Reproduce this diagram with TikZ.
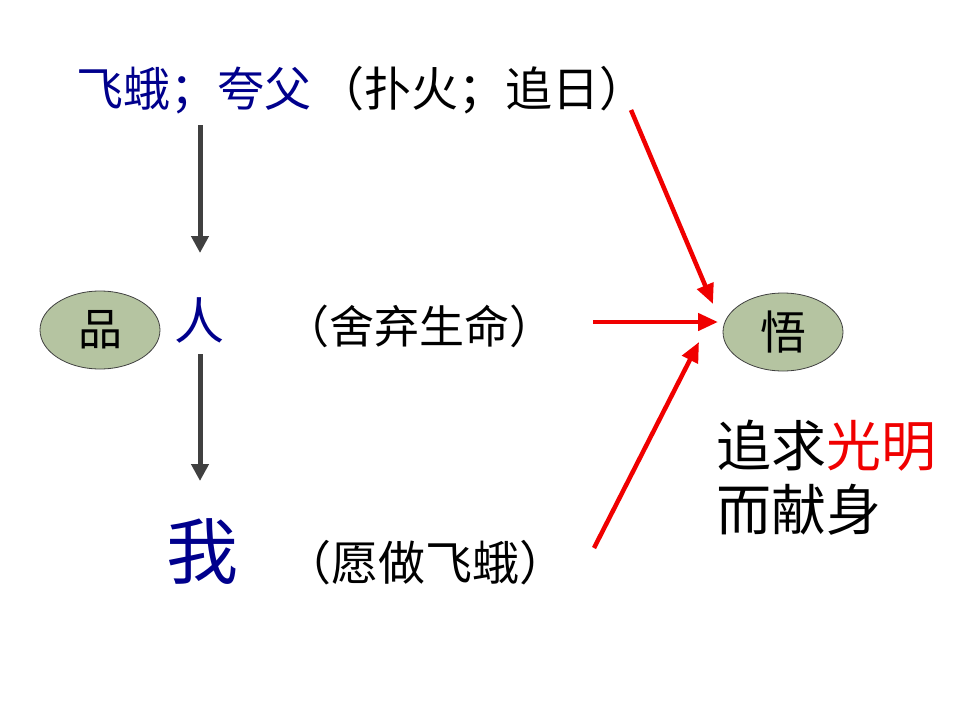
\documentclass[tikz,border=0pt]{standalone}
\usepackage{fontspec}
\setmainfont{Noto Sans CJK SC}
\usetikzlibrary{arrows.meta,shapes.geometric}
\definecolor{navyblue}{RGB}{0,0,140}
\definecolor{ovalfill}{RGB}{181,196,161}
\definecolor{arrowgray}{RGB}{64,64,64}
\definecolor{redarrow}{RGB}{240,0,0}
\tikzset{
  txt/.style={inner sep=0pt, anchor=west},
  oval/.style={ellipse, draw=arrowgray, line width=0.8pt, fill=ovalfill, minimum width=120pt, minimum height=78pt, inner sep=0pt},
  grayarrow/.style={draw=arrowgray, line width=5pt, -{Triangle[length=17pt,width=17pt]}},
  redarr/.style={draw=redarrow, line width=4.5pt, -{Triangle[length=20pt,width=17pt]}},
}
\begin{document}
\begin{tikzpicture}[x=1pt,y=-1pt]
\useasboundingbox (0,0) rectangle (960,720);
% top line
\node[txt] (top) at (76,90) {\fontsize{47}{47}\selectfont\color{navyblue}飞蛾；夸父\hspace{6pt}\color{black}（扑火；追日）};
% left ellipse
\node[oval] (pin) at (100,330) {\fontsize{44}{44}\selectfont 品};
\node[inner sep=0pt] (ren) at (199,320) {\fontsize{50}{50}\selectfont\color{navyblue}人};
\node[txt] (shq) at (284,326) {\fontsize{45}{45}\selectfont （舍弃生命）};
\node[inner sep=0pt] (wo) at (202,552) {\fontsize{72}{72}\selectfont\color{navyblue}我};
\node[txt] (yz) at (284,563) {\fontsize{47}{47}\selectfont （愿做飞蛾）};
% right ellipse
\node[oval] (wu) at (783,332) {\fontsize{46}{46}\selectfont 悟};
\node[txt] (l1) at (716,446) {\fontsize{55}{55}\selectfont 追求\color{redarrow}光明};
\node[txt] (l2) at (716,510) {\fontsize{55}{55}\selectfont 而献身};
% gray arrows
\coordinate (a1s) at (200,125);
\coordinate (a1e) at (200,253);
\coordinate (a2s) at (200,354);
\coordinate (a2e) at (200,481);
\draw[grayarrow] (a1s) -- (a1e);
\draw[grayarrow] (a2s) -- (a2e);
% red arrows
\coordinate (r1s) at (631,110);
\coordinate (r1e) at (713,304);
\coordinate (r2s) at (593,322);
\coordinate (r2e) at (718,322);
\coordinate (r3s) at (594,548);
\coordinate (r3e) at (699,342);
\draw[redarr] (r1s) -- (r1e);
\draw[redarr] (r2s) -- (r2e);
\draw[redarr] (r3s) -- (r3e);
\end{tikzpicture}
\end{document}
